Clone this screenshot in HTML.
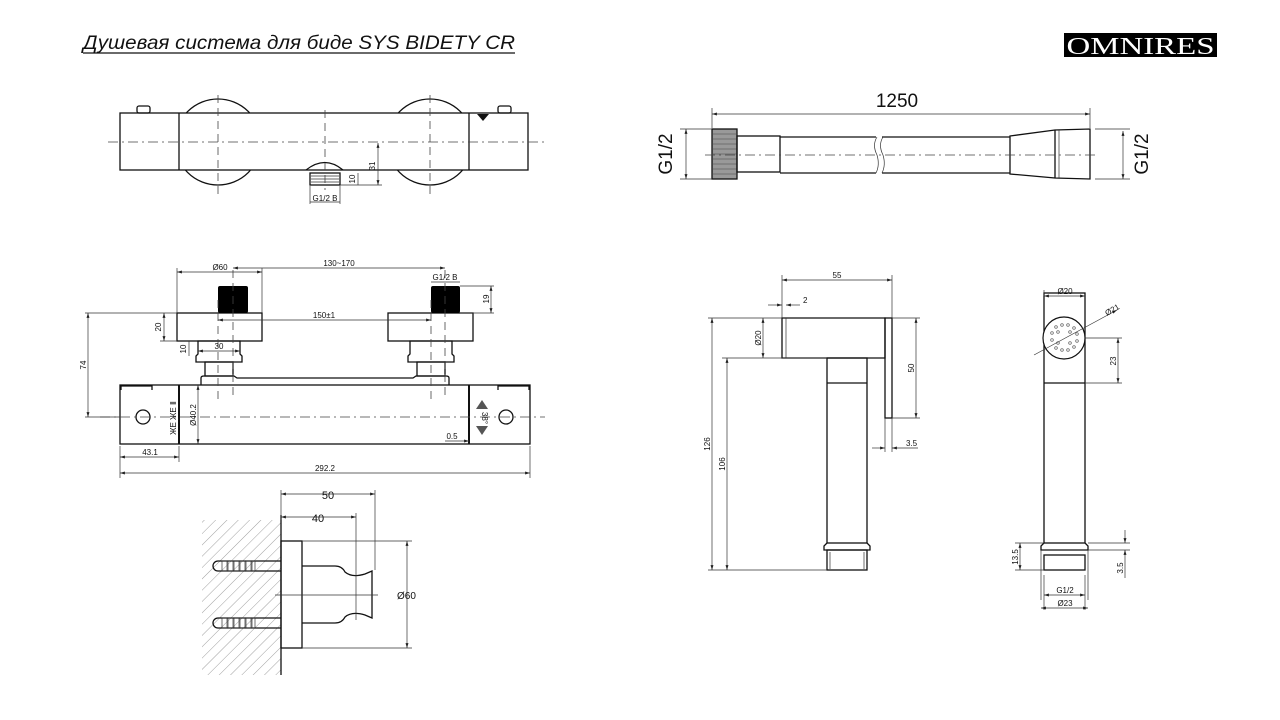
<!DOCTYPE html>
<html><head><meta charset="utf-8"><style>
html,body{margin:0;padding:0;background:#fff;}
svg{display:block;}
text{font-family:"Liberation Sans",sans-serif;fill:#111;}
.l{stroke:#111;stroke-width:1.3;fill:none;}
.t{stroke:#333;stroke-width:0.7;fill:none;}
.c{stroke:#444;stroke-width:0.8;fill:none;stroke-dasharray:10 4 2 4;}
.d{stroke:#444;stroke-width:0.8;fill:none;stroke-dasharray:8 5;}
.s{font-size:8px;}
</style></head><body>
<svg width="1280" height="720" viewBox="0 0 1280 720" xmlns="http://www.w3.org/2000/svg">
<defs>
<marker id="a" viewBox="0 0 10 10" refX="10" refY="5" markerWidth="7" markerHeight="7" orient="auto-start-reverse"><path d="M0,2 L10,5 L0,8 z" fill="#222"/></marker>
<pattern id="h" width="8" height="8" patternUnits="userSpaceOnUse" patternTransform="rotate(45)"><line x1="0" y1="0" x2="0" y2="8" stroke="#888" stroke-width="0.8"/></pattern>
</defs>

<!-- Title -->
<text x="83" y="49" font-size="19" font-style="italic" textLength="432" lengthAdjust="spacingAndGlyphs" style="font-family:'Liberation Sans','DejaVu Sans',sans-serif">Душевая система для биде SYS BIDETY CR</text>
<line x1="83" y1="53" x2="515" y2="53" stroke="#111" stroke-width="1.2"/>
<rect x="1064" y="33" width="153" height="24" fill="#000"/>
<text x="1140.5" y="54" font-size="24" text-anchor="middle" textLength="148" lengthAdjust="spacingAndGlyphs" style="fill:#fff;font-family:'Liberation Serif',serif">OMNIRES</text>

<!-- TOP VIEW -->
<circle cx="218" cy="142" r="43" class="l"/>
<circle cx="430" cy="142" r="43" class="l"/>
<rect x="120" y="113" width="408" height="57" fill="#fff" stroke="#111" stroke-width="1.3"/>
<line x1="179" y1="113" x2="179" y2="170" class="l" stroke-width="2"/>
<line x1="469" y1="113" x2="469" y2="170" class="l"/>
<rect x="137" y="106" width="13" height="7" class="l" rx="2"/>
<rect x="498" y="106" width="13" height="7" class="l" rx="2"/>
<path d="M477,114 L489,114 L483,121 z" fill="#111"/>
<line x1="108" y1="142" x2="545" y2="142" class="c"/>
<line x1="218" y1="95" x2="218" y2="195" class="d"/>
<line x1="325" y1="110" x2="325" y2="190" class="d"/>
<line x1="430" y1="95" x2="430" y2="195" class="d"/>
<path d="M306,170 Q325,155 343,170" class="l"/>
<rect x="310" y="173" width="30" height="12" class="l"/>
<line x1="311" y1="176" x2="339" y2="176" class="t"/><line x1="311" y1="179" x2="339" y2="179" class="t"/><line x1="311" y1="182" x2="339" y2="182" class="t"/>
<line x1="340" y1="185" x2="382" y2="185" class="t"/>
<line x1="378" y1="143" x2="378" y2="185" class="t" marker-start="url(#a)" marker-end="url(#a)"/>
<text x="375" y="166" class="s" transform="rotate(-90 375 166)" text-anchor="middle">31</text>
<line x1="358" y1="173" x2="358" y2="185" class="t"/>
<text x="355" y="179" class="s" transform="rotate(-90 355 179)" text-anchor="middle">10</text>
<line x1="310" y1="186" x2="310" y2="204" class="t"/><line x1="340" y1="186" x2="340" y2="204" class="t"/>
<line x1="310" y1="202" x2="340" y2="202" class="t"/>
<text x="325" y="201" class="s" text-anchor="middle">G1/2 B</text>

<!-- FRONT VIEW -->
<rect x="120" y="385" width="410" height="59" class="l"/>
<line x1="179" y1="385" x2="179" y2="444" stroke="#111" stroke-width="2"/>
<line x1="469" y1="385" x2="469" y2="444" stroke="#111" stroke-width="2"/>
<path d="M121,390 L121,386 L152,386 L152,390" class="l"/>
<path d="M498,390 L498,386 L529,386 L529,390" class="l"/>
<circle cx="143" cy="417" r="7" class="l"/>
<circle cx="506" cy="417" r="7" class="l"/>
<line x1="100" y1="417" x2="545" y2="417" class="c"/>
<path d="M201,385 L201,378 Q201,376 204,376 L234,376 L237,378 L413,378 L416,376 L446,376 Q449,376 449,378 L449,385" class="l"/>
<rect x="205" y="362" width="28" height="14" class="l"/>
<path d="M196,362 L196,356 L198,354 L198,341 L240,341 L240,354 L242,356 L242,362 z" class="l"/>
<rect x="177" y="313" width="85" height="28" class="l"/>
<rect x="218" y="286" width="30" height="27" fill="#000" rx="2"/>
<rect x="417" y="362" width="28" height="14" class="l"/>
<path d="M408,362 L408,356 L410,354 L410,341 L452,341 L452,354 L454,356 L454,362 z" class="l"/>
<rect x="388" y="313" width="85" height="28" class="l"/>
<rect x="431" y="286" width="29" height="27" fill="#000" rx="2"/>
<line x1="218" y1="300" x2="218" y2="400" class="d"/><line x1="233" y1="270" x2="233" y2="400" class="d"/>
<line x1="431" y1="300" x2="431" y2="400" class="d"/><line x1="445" y1="270" x2="445" y2="400" class="d"/>
<text x="176" y="418" class="s" transform="rotate(-90 176 418)" text-anchor="middle">ЖЕ ЖЕ Ⅱ</text>
<text x="482" y="418" class="s" transform="rotate(90 482 418)" text-anchor="middle">38°</text>
<path d="M476,409 L482,400 L488,409 z" fill="#555"/><path d="M476,426 L482,435 L488,426 z" fill="#555"/>
<!-- dims -->
<line x1="120" y1="446" x2="120" y2="478" class="t"/><line x1="530" y1="446" x2="530" y2="478" class="t"/><line x1="179" y1="446" x2="179" y2="462" class="t"/>
<line x1="120" y1="473" x2="530" y2="473" class="t" marker-start="url(#a)" marker-end="url(#a)"/>
<text x="325" y="471" class="s" text-anchor="middle">292.2</text>
<line x1="120" y1="457" x2="179" y2="457" class="t" marker-start="url(#a)" marker-end="url(#a)"/>
<text x="150" y="455" class="s" text-anchor="middle">43.1</text>
<line x1="85" y1="313" x2="177" y2="313" class="t"/><line x1="85" y1="417" x2="120" y2="417" class="t"/>
<line x1="88" y1="313" x2="88" y2="417" class="t" marker-start="url(#a)" marker-end="url(#a)"/>
<text x="86" y="365" class="s" transform="rotate(-90 86 365)" text-anchor="middle">74</text>
<line x1="160" y1="341" x2="177" y2="341" class="t"/>
<line x1="164" y1="313" x2="164" y2="341" class="t" marker-start="url(#a)" marker-end="url(#a)"/>
<text x="161" y="327" class="s" transform="rotate(-90 161 327)" text-anchor="middle">20</text>
<line x1="189" y1="341" x2="189" y2="356" class="t"/>
<text x="186" y="349" class="s" transform="rotate(-90 186 349)" text-anchor="middle">10</text>
<line x1="198" y1="351" x2="240" y2="351" class="t" marker-start="url(#a)" marker-end="url(#a)"/>
<text x="219" y="349" class="s" text-anchor="middle">30</text>
<line x1="177" y1="268" x2="177" y2="313" class="t"/><line x1="262" y1="268" x2="262" y2="313" class="t"/>
<line x1="177" y1="272" x2="262" y2="272" class="t" marker-start="url(#a)" marker-end="url(#a)"/>
<text x="220" y="270" class="s" text-anchor="middle">Ø60</text>
<line x1="233" y1="268" x2="445" y2="268" class="t" marker-start="url(#a)" marker-end="url(#a)"/>
<text x="339" y="266" class="s" text-anchor="middle">130~170</text>
<line x1="218" y1="320" x2="431" y2="320" class="t" marker-start="url(#a)" marker-end="url(#a)"/>
<text x="324" y="318" class="s" text-anchor="middle">150±1</text>
<line x1="431" y1="282" x2="460" y2="282" class="t"/>
<text x="445" y="280" class="s" text-anchor="middle">G1/2 B</text>
<line x1="460" y1="286" x2="494" y2="286" class="t"/><line x1="460" y1="313" x2="494" y2="313" class="t"/>
<line x1="491" y1="286" x2="491" y2="313" class="t" marker-start="url(#a)" marker-end="url(#a)"/>
<text x="489" y="299" class="s" transform="rotate(-90 489 299)" text-anchor="middle">19</text>
<line x1="198" y1="385" x2="198" y2="444" class="t" marker-start="url(#a)" marker-end="url(#a)"/>
<text x="196" y="415" class="s" transform="rotate(-90 196 415)" text-anchor="middle">Ø40.2</text>
<line x1="445" y1="441" x2="469" y2="441" class="t" marker-end="url(#a)"/>
<text x="452" y="439" class="s" text-anchor="middle">0.5</text>

<!-- WALL BRACKET -->
<rect x="202" y="520" width="79" height="155" fill="url(#h)"/>
<line x1="281" y1="515" x2="281" y2="675" class="l"/>
<rect x="281" y="541" width="21" height="107" class="l"/>
<path d="M302,566 L335,566 Q342,566 345,572 Q352,578 365,574 L372,571 L372,618 L365,615 Q352,611 345,617 Q342,623 335,623 L302,623" class="l"/>
<g class="l" stroke-width="1">
<path d="M281,561 L218,561 A5,5 0 0 0 218,571 L281,571"/>
<path d="M281,618 L218,618 A5,5 0 0 0 218,628 L281,628"/>
</g>
<g class="t">
<rect x="222" y="561" width="5" height="10"/><rect x="228" y="561" width="5" height="10"/><rect x="234" y="561" width="5" height="10"/><rect x="240" y="561" width="5" height="10"/><rect x="246" y="561" width="5" height="10"/><rect x="252" y="561" width="3" height="10"/>
<rect x="222" y="618" width="5" height="10"/><rect x="228" y="618" width="5" height="10"/><rect x="234" y="618" width="5" height="10"/><rect x="240" y="618" width="5" height="10"/><rect x="246" y="618" width="5" height="10"/><rect x="252" y="618" width="3" height="10"/>
</g>
<line x1="275" y1="595" x2="378" y2="595" class="t"/>
<line x1="281" y1="490" x2="281" y2="520" class="t"/><line x1="375" y1="490" x2="375" y2="570" class="t"/><line x1="356" y1="513" x2="356" y2="620" class="t"/>
<line x1="281" y1="494" x2="375" y2="494" class="t" marker-start="url(#a)" marker-end="url(#a)"/>
<text x="328" y="499" font-size="11" text-anchor="middle" style="fill:#111">50</text>
<line x1="281" y1="517" x2="356" y2="517" class="t" marker-start="url(#a)" marker-end="url(#a)"/>
<text x="318" y="522" font-size="11" text-anchor="middle">40</text>
<line x1="302" y1="541" x2="412" y2="541" class="t"/><line x1="302" y1="648" x2="412" y2="648" class="t"/>
<line x1="407" y1="541" x2="407" y2="648" class="t" marker-start="url(#a)" marker-end="url(#a)"/>
<text x="397" y="599" font-size="10">Ø60</text>

<!-- HOSE -->
<rect x="712" y="129" width="25" height="50" fill="#999" stroke="#111" stroke-width="1.3"/>
<g stroke="#444" stroke-width="0.6"><line x1="712" y1="134" x2="737" y2="134"/><line x1="712" y1="139" x2="737" y2="139"/><line x1="712" y1="144" x2="737" y2="144"/><line x1="712" y1="149" x2="737" y2="149"/><line x1="712" y1="154" x2="737" y2="154"/><line x1="712" y1="159" x2="737" y2="159"/><line x1="712" y1="164" x2="737" y2="164"/><line x1="712" y1="169" x2="737" y2="169"/><line x1="712" y1="174" x2="737" y2="174"/></g>
<rect x="737" y="136" width="43" height="36" class="l"/>
<path d="M780,137 L876,137 M882,137 L1010,137 M780,173 L876,173 M882,173 L1010,173" class="l"/>
<path d="M877,137 Q872,145 877,155 Q880,165 876,173 M883,137 Q878,145 883,155 Q886,165 882,173" class="t"/>
<path d="M1010,136 L1055,130 L1090,129 L1090,179 L1055,178 L1010,174 z" class="l"/>
<line x1="1055" y1="130" x2="1055" y2="178" class="l"/><line x1="1059" y1="130" x2="1059" y2="178" class="t"/>
<line x1="705" y1="155" x2="1095" y2="155" class="c"/>
<line x1="712" y1="108" x2="712" y2="128" class="t"/><line x1="1090" y1="108" x2="1090" y2="128" class="t"/>
<line x1="712" y1="114" x2="1090" y2="114" class="t" marker-start="url(#a)" marker-end="url(#a)"/>
<text x="897" y="107" font-size="19" text-anchor="middle">1250</text>
<line x1="680" y1="129" x2="712" y2="129" class="t"/><line x1="680" y1="179" x2="712" y2="179" class="t"/>
<line x1="686" y1="129" x2="686" y2="179" class="t" marker-start="url(#a)" marker-end="url(#a)"/>
<text x="672" y="154" font-size="19" transform="rotate(-90 672 154)" text-anchor="middle">G1/2</text>
<line x1="1095" y1="129" x2="1130" y2="129" class="t"/><line x1="1095" y1="179" x2="1130" y2="179" class="t"/>
<line x1="1123" y1="131" x2="1123" y2="179" class="t" marker-start="url(#a)" marker-end="url(#a)"/>
<text x="1148" y="154" font-size="19" transform="rotate(-90 1148 154)" text-anchor="middle">G1/2</text>

<!-- SIDE VIEW of bidet head -->
<path d="M782,318 L885,318 L885,358 L782,358 z" class="l"/>
<line x1="786" y1="318" x2="786" y2="358" class="t"/>
<rect x="885" y="318" width="7" height="100" class="l"/>
<rect x="827" y="358" width="40" height="185" class="l"/>
<line x1="827" y1="383" x2="867" y2="383" class="l"/>
<path d="M827,543 L824,546 L824,550 L870,550 L870,546 L867,543" class="l"/>
<rect x="827" y="550" width="40" height="20" class="l"/>
<line x1="830" y1="552" x2="830" y2="569" class="t"/><line x1="864" y1="552" x2="864" y2="569" class="t"/>
<line x1="708" y1="570" x2="827" y2="570" class="t"/>
<line x1="708" y1="318" x2="782" y2="318" class="t"/><line x1="722" y1="358" x2="827" y2="358" class="t"/>
<line x1="712" y1="318" x2="712" y2="570" class="t" marker-start="url(#a)" marker-end="url(#a)"/>
<text x="710" y="444" class="s" transform="rotate(-90 710 444)" text-anchor="middle">126</text>
<line x1="727" y1="358" x2="727" y2="570" class="t" marker-start="url(#a)" marker-end="url(#a)"/>
<text x="725" y="464" class="s" transform="rotate(-90 725 464)" text-anchor="middle">106</text>
<line x1="763" y1="318" x2="763" y2="358" class="t" marker-start="url(#a)" marker-end="url(#a)"/>
<text x="761" y="338" class="s" transform="rotate(-90 761 338)" text-anchor="middle">Ø20</text>
<line x1="782" y1="275" x2="782" y2="318" class="t"/><line x1="892" y1="275" x2="892" y2="318" class="t"/>
<line x1="782" y1="280" x2="892" y2="280" class="t" marker-start="url(#a)" marker-end="url(#a)"/>
<text x="837" y="278" class="s" text-anchor="middle">55</text>
<line x1="768" y1="305" x2="782" y2="305" class="t" marker-end="url(#a)"/><line x1="786" y1="305" x2="800" y2="305" class="t" marker-start="url(#a)"/>
<text x="803" y="303" class="s">2</text>
<line x1="892" y1="318" x2="920" y2="318" class="t"/><line x1="892" y1="418" x2="920" y2="418" class="t"/>
<line x1="916" y1="318" x2="916" y2="418" class="t" marker-start="url(#a)" marker-end="url(#a)"/>
<text x="914" y="368" class="s" transform="rotate(-90 914 368)" text-anchor="middle">50</text>
<line x1="885" y1="418" x2="885" y2="452" class="t"/><line x1="892" y1="418" x2="892" y2="452" class="t"/>
<line x1="872" y1="448" x2="885" y2="448" class="t" marker-end="url(#a)"/><line x1="892" y1="448" x2="918" y2="448" class="t" marker-start="url(#a)"/>
<text x="906" y="446" class="s">3.5</text>

<!-- FRONT VIEW of bidet head -->
<rect x="1044" y="293" width="41" height="250" class="l"/>
<line x1="1044" y1="383" x2="1085" y2="383" class="l"/>
<circle cx="1064" cy="338" r="21" fill="#fff" stroke="#111" stroke-width="1.2"/>
<g fill="none" stroke="#555" stroke-width="0.7">
<circle cx="1056" cy="327" r="1.3"/><circle cx="1062" cy="325" r="1.3"/><circle cx="1068" cy="325" r="1.3"/><circle cx="1074" cy="328" r="1.3"/>
<circle cx="1052" cy="333" r="1.3"/><circle cx="1058" cy="332" r="1.3"/><circle cx="1070" cy="332" r="1.3"/><circle cx="1077" cy="334" r="1.3"/>
<circle cx="1052" cy="340" r="1.3"/><circle cx="1058" cy="343" r="1.3"/><circle cx="1070" cy="343" r="1.3"/><circle cx="1077" cy="341" r="1.3"/>
<circle cx="1056" cy="348" r="1.3"/><circle cx="1062" cy="350" r="1.3"/><circle cx="1068" cy="350" r="1.3"/><circle cx="1074" cy="347" r="1.3"/>
</g>
<line x1="1034" y1="355" x2="1117" y2="310" class="t" marker-end="url(#a)"/>
<text x="1107" y="316" class="s" transform="rotate(-30 1107 316)">Ø21</text>
<line x1="1044" y1="290" x2="1044" y2="296" class="t"/>
<line x1="1044" y1="296" x2="1085" y2="296" class="t" marker-start="url(#a)" marker-end="url(#a)"/>
<text x="1065" y="294" class="s" text-anchor="middle">Ø20</text>
<line x1="1085" y1="338" x2="1122" y2="338" class="t"/><line x1="1085" y1="383" x2="1122" y2="383" class="t"/>
<line x1="1118" y1="338" x2="1118" y2="383" class="t" marker-start="url(#a)" marker-end="url(#a)"/>
<text x="1116" y="361" class="s" transform="rotate(-90 1116 361)" text-anchor="middle">23</text>
<path d="M1044,543 L1041,546 L1041,550 L1088,550 L1088,546 L1085,543" class="l"/>
<rect x="1044" y="555" width="41" height="15" class="l"/>
<line x1="1041" y1="550" x2="1041" y2="600" class="t"/><line x1="1088" y1="550" x2="1088" y2="600" class="t"/>
<line x1="1044" y1="575" x2="1044" y2="610" class="t"/><line x1="1085" y1="575" x2="1085" y2="610" class="t"/>
<line x1="1044" y1="595" x2="1085" y2="595" class="t" marker-start="url(#a)" marker-end="url(#a)"/>
<text x="1065" y="593" class="s" text-anchor="middle">G1/2</text>
<line x1="1041" y1="608" x2="1088" y2="608" class="t" marker-start="url(#a)" marker-end="url(#a)"/>
<text x="1065" y="606" class="s" text-anchor="middle">Ø23</text>
<line x1="1015" y1="543" x2="1044" y2="543" class="t"/><line x1="1015" y1="570" x2="1044" y2="570" class="t"/>
<line x1="1020" y1="543" x2="1020" y2="570" class="t" marker-start="url(#a)" marker-end="url(#a)"/>
<text x="1018" y="557" class="s" transform="rotate(-90 1018 557)" text-anchor="middle">13.5</text>
<line x1="1088" y1="543" x2="1130" y2="543" class="t"/><line x1="1088" y1="550" x2="1130" y2="550" class="t"/>
<line x1="1125" y1="530" x2="1125" y2="543" class="t" marker-end="url(#a)"/><line x1="1125" y1="550" x2="1125" y2="578" class="t" marker-start="url(#a)"/>
<text x="1123" y="568" class="s" transform="rotate(-90 1123 568)" text-anchor="middle">3.5</text>
</svg>
</body></html>
